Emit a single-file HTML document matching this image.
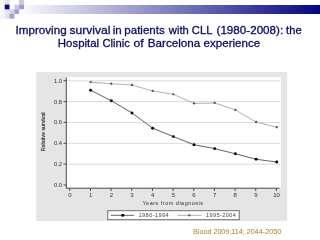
<!DOCTYPE html>
<html><head><meta charset="utf-8">
<style>
html,body{margin:0;padding:0;background:#fff;width:320px;height:240px;overflow:hidden}
svg{position:absolute;left:0;top:0;display:block;will-change:transform}
text{font-family:"Liberation Sans",sans-serif}
</style></head><body>
<svg width="320" height="240" viewBox="0 0 320 240">
<defs>
<linearGradient id="bar" x1="0" y1="0" x2="1" y2="0">
<stop offset="0" stop-color="#f8f8fc"/>
<stop offset="1" stop-color="#040480"/>
</linearGradient>
</defs>
<!-- top decoration -->
<rect x="0" y="0" width="4.7" height="4.6" fill="#f6f4fc"/>
<rect x="4.7" y="0" width="4.8" height="4.6" fill="#e0e0ee"/>
<rect x="0" y="4.6" width="4.7" height="4.7" fill="#f8f8fc"/>
<rect x="0" y="9.3" width="4.7" height="4.7" fill="#f6f6fa"/>
<rect x="4.7" y="9.3" width="4.8" height="4.7" fill="#e4e4f0"/>
<rect x="4.7" y="14" width="4.8" height="4.7" fill="#e0e0ee"/>
<rect x="0" y="14" width="4.7" height="4.7" fill="#f4f4fa"/>
<rect x="9.5" y="9.3" width="4.8" height="4.7" fill="#d0d0e8"/>
<rect x="9.5" y="14" width="4.8" height="4.7" fill="#a0a0d4"/>
<rect x="14.3" y="4.6" width="4.8" height="4.7" fill="#c8c8e4"/>
<rect x="14.3" y="9.3" width="4.8" height="4.7" fill="#a0a0d0"/>
<rect x="19.1" y="0" width="4.9" height="4.6" fill="#cacae4"/>
<rect x="19.1" y="4.6" width="4.9" height="4.7" fill="#9c9ccc"/>
<rect x="4.7" y="4.6" width="4.8" height="4.7" fill="#0a0a80"/>
<rect x="24" y="5" width="296" height="9" fill="url(#bar)"/>

<!-- title -->
<g fill="#0a0a62" stroke="#0a0a62" stroke-width="0.3" font-size="11.8">
<text x="15.53" y="33.6" textLength="51.11" lengthAdjust="spacingAndGlyphs">Improving</text>
<text x="69.41" y="33.6" textLength="41.05" lengthAdjust="spacingAndGlyphs">survival</text>
<text x="112.68" y="33.6" textLength="8.98" lengthAdjust="spacingAndGlyphs">in</text>
<text x="124.35" y="33.6" textLength="40.32" lengthAdjust="spacingAndGlyphs">patients</text>
<text x="168.83" y="33.6" textLength="19.94" lengthAdjust="spacingAndGlyphs">with</text>
<text x="191.82" y="33.6" textLength="20.56" lengthAdjust="spacingAndGlyphs">CLL</text>
<text x="216.53" y="33.6" textLength="66.68" lengthAdjust="spacingAndGlyphs">(1980-2008):</text>
<text x="286.12" y="33.6" textLength="15.58" lengthAdjust="spacingAndGlyphs">the</text>
<text x="57.81" y="47.4" textLength="41.35" lengthAdjust="spacingAndGlyphs">Hospital</text>
<text x="102.51" y="47.4" textLength="27.41" lengthAdjust="spacingAndGlyphs">Clinic</text>
<text x="133.44" y="47.4" textLength="10.20" lengthAdjust="spacingAndGlyphs">of</text>
<text x="147.79" y="47.4" textLength="52.45" lengthAdjust="spacingAndGlyphs">Barcelona</text>
<text x="203.61" y="47.4" textLength="56.55" lengthAdjust="spacingAndGlyphs">experience</text>
</g>

<!-- chart frame -->
<rect x="36.4" y="72" width="250.8" height="149" fill="#e5e5e5"/>
<rect x="66.5" y="77" width="214.5" height="111" fill="#ffffff"/>
<!-- gridlines -->
<g stroke="#d9d9d9" stroke-width="1">
<line x1="67" y1="164.15" x2="280" y2="164.15"/>
<line x1="67" y1="143.30" x2="280" y2="143.30"/>
<line x1="67" y1="122.45" x2="280" y2="122.45"/>
<line x1="67" y1="101.60" x2="280" y2="101.60"/>
<line x1="67" y1="80.75" x2="280" y2="80.75"/>
</g>
<g stroke="#4a4a4a" stroke-width="1">
<line x1="66.3" y1="77.5" x2="66.3" y2="188.5"/>
<line x1="66" y1="188.2" x2="279.5" y2="188.2"/>
<line x1="63.5" y1="185.00" x2="66.3" y2="185.00"/>
<line x1="63.5" y1="164.15" x2="66.3" y2="164.15"/>
<line x1="63.5" y1="143.30" x2="66.3" y2="143.30"/>
<line x1="63.5" y1="122.45" x2="66.3" y2="122.45"/>
<line x1="63.5" y1="101.60" x2="66.3" y2="101.60"/>
<line x1="63.5" y1="80.75" x2="66.3" y2="80.75"/>
<line x1="69.80" y1="188.2" x2="69.80" y2="191"/>
<line x1="90.46" y1="188.2" x2="90.46" y2="191"/>
<line x1="111.12" y1="188.2" x2="111.12" y2="191"/>
<line x1="131.78" y1="188.2" x2="131.78" y2="191"/>
<line x1="152.44" y1="188.2" x2="152.44" y2="191"/>
<line x1="173.10" y1="188.2" x2="173.10" y2="191"/>
<line x1="193.76" y1="188.2" x2="193.76" y2="191"/>
<line x1="214.42" y1="188.2" x2="214.42" y2="191"/>
<line x1="235.08" y1="188.2" x2="235.08" y2="191"/>
<line x1="255.74" y1="188.2" x2="255.74" y2="191"/>
<line x1="276.40" y1="188.2" x2="276.40" y2="191"/>
</g>
<g fill="#333" font-size="5.8" text-anchor="end">
<text x="62" y="82.75">1.0</text>
<text x="62" y="103.60">0.8</text>
<text x="62" y="124.45">0.6</text>
<text x="62" y="145.30">0.4</text>
<text x="62" y="166.15">0.2</text>
<text x="62" y="187.00">0.0</text>
</g>
<g fill="#333" font-size="6" text-anchor="middle">
<text x="70.00" y="196.7">0</text>
<text x="90.66" y="196.7">1</text>
<text x="111.32" y="196.7">2</text>
<text x="131.98" y="196.7">3</text>
<text x="152.64" y="196.7">4</text>
<text x="173.30" y="196.7">5</text>
<text x="193.96" y="196.7">6</text>
<text x="214.62" y="196.7">7</text>
<text x="235.28" y="196.7">8</text>
<text x="255.94" y="196.7">9</text>
<text x="276.60" y="196.7">10</text>
</g>
<text x="173" y="204.5" fill="#333" font-size="5.5" letter-spacing="0.5" text-anchor="middle">Years from diagnosis</text>
<text transform="translate(45,131.9) rotate(-90)" fill="#333" stroke="#333" stroke-width="0.15" font-size="5.35" text-anchor="middle">Relative survival</text>
<polyline fill="none" stroke="#a8a8a8" stroke-width="0.9" points="90.63,82.20 111.31,83.76 131.99,85.02 152.67,90.96 173.35,94.29 194.03,103.47 214.71,102.95 235.39,109.93 256.07,122.02 276.75,127.24"/>
<g fill="#505050">
<circle cx="90.63" cy="82.20" r="1.15"/><circle cx="111.31" cy="83.76" r="1.15"/><circle cx="131.99" cy="85.02" r="1.15"/><circle cx="152.67" cy="90.96" r="1.15"/><circle cx="173.35" cy="94.29" r="1.15"/><circle cx="194.03" cy="103.47" r="1.15"/><circle cx="214.71" cy="102.95" r="1.15"/><circle cx="235.39" cy="109.93" r="1.15"/><circle cx="256.07" cy="122.02" r="1.15"/><circle cx="276.75" cy="127.24" r="1.15"/>
</g>
<polyline fill="none" stroke="#3a3a3a" stroke-width="0.8" points="90.63,90.23 111.31,100.76 131.99,112.95 152.67,128.18 173.35,136.62 194.03,144.75 214.71,148.61 235.39,153.82 256.07,159.24 276.75,162.06"/>
<g fill="#000">
<circle cx="90.63" cy="90.23" r="1.45"/><circle cx="111.31" cy="100.76" r="1.45"/><circle cx="131.99" cy="112.95" r="1.45"/><circle cx="152.67" cy="128.18" r="1.45"/><circle cx="173.35" cy="136.62" r="1.45"/><circle cx="194.03" cy="144.75" r="1.45"/><circle cx="214.71" cy="148.61" r="1.45"/><circle cx="235.39" cy="153.82" r="1.45"/><circle cx="256.07" cy="159.24" r="1.45"/><circle cx="276.75" cy="162.06" r="1.45"/>
</g>

<!-- legend -->
<rect x="107.75" y="210.7" width="131.5" height="9" fill="#fff" stroke="#707070" stroke-width="1"/>
<line x1="110.8" y1="215.3" x2="134" y2="215.3" stroke="#3a3a3a" stroke-width="0.8"/>
<circle cx="122.75" cy="215.3" r="1.5" fill="#000"/>
<text x="138.6" y="217.4" fill="#444" font-size="5.6" letter-spacing="0.4">1980-1994</text>
<line x1="177.5" y1="215.3" x2="201.5" y2="215.3" stroke="#a8a8a8" stroke-width="0.9"/>
<circle cx="189.3" cy="215.3" r="1.15" fill="#505050"/>
<text x="206" y="217.4" fill="#444" font-size="5.6" letter-spacing="0.4">1995-2004</text>

<!-- citation -->
<text x="193" y="234.4" fill="#a97b28" font-size="7.2">Blood 2009;114; 2044-2050</text>
</svg>
</body></html>
